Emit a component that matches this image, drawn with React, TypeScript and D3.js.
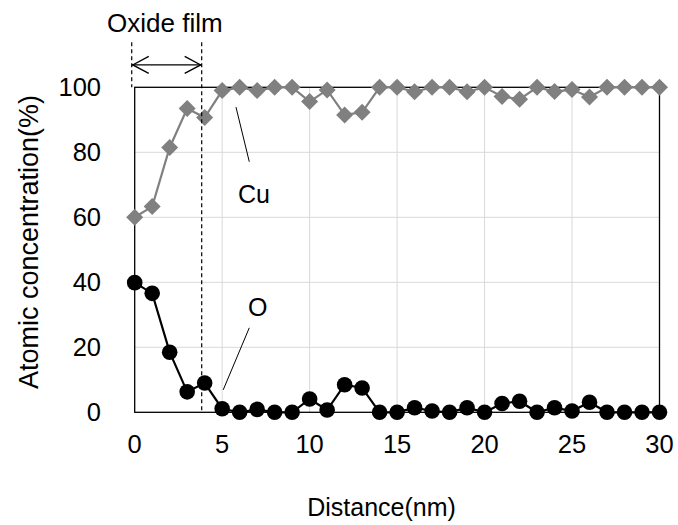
import React, { useEffect } from 'react';
import * as d3 from 'd3';

const distance = d3.range(0, 31);
const cuValues = [60, 63.3, 81.5, 93.5, 90.7, 99, 100, 99, 100, 100, 95.6, 99.2, 91.5, 92.3, 100, 100, 98.6, 100, 100, 98.6, 100, 97.2, 96.3, 100, 98.7, 99.3, 97, 100, 100, 100, 100];
const oValues = [39.9, 36.6, 18.5, 6.3, 9.0, 1.1, 0, 0.9, 0, 0, 4.1, 0.7, 8.5, 7.5, 0, 0, 1.4, 0.4, 0, 1.4, 0, 2.7, 3.4, 0, 1.4, 0.4, 3.1, 0, 0, 0, 0];
const xTicks = [0, 5, 10, 15, 20, 25, 30];
const yTicks = [0, 20, 40, 60, 80, 100];

const font = 'Liberation Sans, Arial, sans-serif';

const App = () => {
  useEffect(() => {
    document.body.style.margin = '0';
  }, []);

  const width = 678;
  const height = 525;
  const x = d3.scaleLinear().domain([0, 30]).range([134.7, 659.5]);
  const y = d3.scaleLinear().domain([0, 100]).range([412.3, 87.3]);

  const line = d3.line<number>()
    .x((d, i) => x(distance[i]))
    .y(d => y(d));

  const diamond = d3.symbol().type(d3.symbolDiamond2).size(185)();

  // oxide film bounds
  const filmL = -0.17;
  const filmR = 3.83;
  const arrowY = 106.9;

  return (
    <svg width={width} height={height} style={{ display: 'block' }}>
      <rect width={width} height={height} fill="white" />
      {/* gridlines */}
      {xTicks.slice(1, -1).map(t => (
        <line key={'gx' + t} x1={x(t)} x2={x(t)} y1={y(0)} y2={y(100)} stroke="#d9d9d9" strokeWidth={1} />
      ))}
      {yTicks.slice(1, -1).map(t => (
        <line key={'gy' + t} x1={x(0)} x2={x(30)} y1={y(t)} y2={y(t)} stroke="#d9d9d9" strokeWidth={1} />
      ))}
      <rect x={x(0)} y={y(100)} width={x(30) - x(0)} height={y(0) - y(100)} fill="none" stroke="black" strokeWidth={1.3} />

      {/* tick labels */}
      {yTicks.map(t => (
        <text key={'yt' + t} x={101} y={y(t)} dy="0.36em" textAnchor="end" fontFamily={font} fontSize={25.5}>{t}</text>
      ))}
      {xTicks.map(t => (
        <text key={'xt' + t} x={x(t)} y={453} textAnchor="middle" fontFamily={font} fontSize={25.5}>{t}</text>
      ))}
      <text x={381.5} y={516} textAnchor="middle" fontFamily={font} fontSize={25}>Distance(nm)</text>
      <text transform="translate(38,242) rotate(-90)" textAnchor="middle" fontFamily={font} fontSize={27}>Atomic concentration(%)</text>

      {/* Cu series */}
      <path d={line(cuValues) || ''} fill="none" stroke="#808080" strokeWidth={2.2} />
      {cuValues.map((v, i) => (
        <path key={'cu' + i} d={diamond || ''} transform={`translate(${x(distance[i])},${y(v)})`} fill="#808080" />
      ))}

      {/* O series */}
      <path d={line(oValues) || ''} fill="none" stroke="black" strokeWidth={2.2} />
      {oValues.map((v, i) => (
        <circle key={'o' + i} cx={x(distance[i])} cy={y(v)} r={7.8} fill="black" />
      ))}

      {/* oxide film annotation */}
      <line x1={x(filmL)} x2={x(filmL)} y1={y(113.9)} y2={y(100)} stroke="black" strokeWidth={1.2} strokeDasharray="4,3" />
      <line x1={x(filmR)} x2={x(filmR)} y1={y(113.9)} y2={y(0)} stroke="black" strokeWidth={1.2} strokeDasharray="4,3" />
      <line x1={x(filmL)} x2={x(filmR)} y1={y(arrowY)} y2={y(arrowY)} stroke="black" strokeWidth={1.3} />
      <path d={`M${x(filmL) + 17},${y(arrowY) - 8.5} L${x(filmL) + 1},${y(arrowY)} L${x(filmL) + 17},${y(arrowY) + 8.5}`} fill="none" stroke="black" strokeWidth={1.3} />
      <path d={`M${x(filmR) - 17},${y(arrowY) - 8.5} L${x(filmR) - 1},${y(arrowY)} L${x(filmR) - 17},${y(arrowY) + 8.5}`} fill="none" stroke="black" strokeWidth={1.3} />
      <text x={x(-1.58)} y={y(117)} fontFamily={font} fontSize={26}>Oxide film</text>

      {/* series labels */}
      <line x1={x(5.79)} y1={y(93.9)} x2={x(6.55)} y2={y(77.1)} stroke="black" strokeWidth={1} />
      <text x={x(5.9)} y={y(64.4)} fontFamily={font} fontSize={25}>Cu</text>
      <line x1={x(6.55)} y1={y(26)} x2={x(5.06)} y2={y(6.9)} stroke="black" strokeWidth={1} />
      <text x={x(6.47)} y={y(29.6)} fontFamily={font} fontSize={25}>O</text>
    </svg>
  );
};

export default App;
